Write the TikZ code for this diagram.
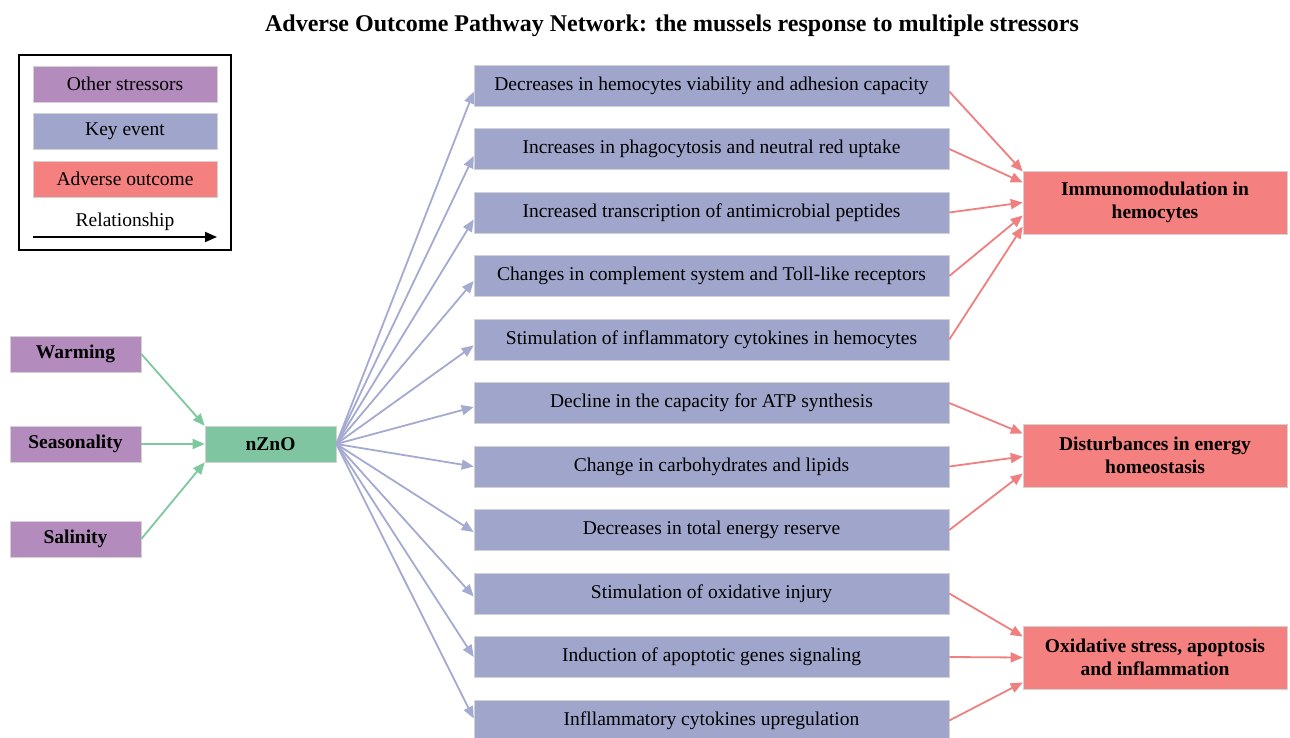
\documentclass[tikz,border=0pt]{standalone}
\usepackage{fontspec}
\setmainfont{Liberation Serif}
\usetikzlibrary{arrows.meta}
\definecolor{cpur}{RGB}{179,139,189}
\definecolor{ckey}{RGB}{160,166,203}
\definecolor{cred}{RGB}{245,128,128}
\definecolor{cgrn}{RGB}{128,197,162}
\definecolor{akey}{RGB}{165,170,208}
\definecolor{ared}{RGB}{240,128,128}
\definecolor{agrn}{RGB}{126,200,160}
\begin{document}
\begin{tikzpicture}[x=1pt,y=-1pt,
  box/.style={draw=gray!35, line width=0.6pt, inner sep=0pt, align=center,
    font=\fontsize{19.5}{23}\selectfont},
  keybox/.style={box, fill=ckey, minimum width=475pt, minimum height=41pt},
  stressbox/.style={box, fill=cpur, minimum width=131pt, minimum height=36pt, font=\fontsize{19.5}{23}\selectfont\bfseries},
  znbox/.style={box, fill=cgrn, minimum width=131pt, minimum height=36pt, font=\fontsize{19.5}{23}\selectfont\bfseries},
  outbox/.style={box, fill=cred, minimum width=264pt, minimum height=63pt, font=\fontsize{19.5}{23}\selectfont\bfseries},
  legbox/.style={box, minimum width=184pt, minimum height=36pt},
  tip/.style={-{Triangle[length=12pt,width=10pt]}},
  blarr/.style={tip, draw=akey, line width=1.8pt},
  rdarr/.style={tip, draw=ared, line width=1.8pt},
  grarr/.style={tip, draw=agrn, line width=1.8pt},
  bkarr/.style={tip, draw=black, line width=1.8pt}
]
\useasboundingbox[fill=white] (0,0) rectangle (1290,738);

\node[font=\fontsize{24}{27}\selectfont\bfseries] (title) at (672,26)
  {Adverse Outcome Pathway Network: the mussels response to multiple stressors};

% legend
\node[draw=black, line width=1.5pt, minimum width=212pt, minimum height=195pt, inner sep=0pt] (legend) at (125,152.5) {};
\node[legbox, fill=cpur] (l1) at (125,84) {Other stressors};
\node[legbox, fill=ckey] (l2) at (125,131) {Key event};
\node[legbox, fill=cred] (l3) at (125,179) {Adverse outcome};
\node[font=\fontsize{19.5}{23}\selectfont] (lrel) at (125,222) {Relationship};
\coordinate (la) at (33,237);
\coordinate (lb) at (217,237);
\draw[bkarr] (la) -- (lb);

% stressors
\node[stressbox] (warm) at (75.5,354) {Warming};
\node[stressbox] (seas) at (75.5,444) {Seasonality};
\node[stressbox] (sal) at (75.5,539) {Salinity};
\node[znbox] (zn) at (270.5,444) {nZnO};

% key events
\node[keybox] (k1) at (711.5,85.5) {Decreases in hemocytes viability and adhesion capacity};
\node[keybox] (k2) at (711.5,149) {Increases in phagocytosis and neutral red uptake};
\node[keybox] (k3) at (711.5,212.5) {Increased transcription of antimicrobial peptides};
\node[keybox] (k4) at (711.5,276) {Changes in complement system and Toll-like receptors};
\node[keybox] (k5) at (711.5,339.5) {Stimulation of inflammatory cytokines in hemocytes};
\node[keybox] (k6) at (711.5,403) {Decline in the capacity for ATP synthesis};
\node[keybox] (k7) at (711.5,466.5) {Change in carbohydrates and lipids};
\node[keybox] (k8) at (711.5,530) {Decreases in total energy reserve};
\node[keybox] (k9) at (711.5,593.5) {Stimulation of oxidative injury};
\node[keybox] (k10) at (711.5,657) {Induction of apoptotic genes signaling};
\node[keybox] (k11) at (711.5,720.5) {Infllammatory cytokines upregulation};

% outcomes
\node[outbox] (o1) at (1155,202.5) {Immunomodulation in\\hemocytes};
\node[outbox] (o2) at (1155,455.5) {Disturbances in energy\\homeostasis};
\node[outbox] (o3) at (1155,657.5) {Oxidative stress, apoptosis\\and inflammation};

% green arrows
\draw[grarr] (warm.east) -- (zn.north west);
\draw[grarr] (seas.east) -- (zn.west);
\draw[grarr] (sal.east) -- (zn.south west);

% blue arrows
\draw[blarr] (zn.east) -- ([yshift=-6pt]k1.west);
\draw[blarr] (zn.east) -- ([yshift=-7pt]k2.west);
\draw[blarr] (zn.east) -- ([yshift=-7pt]k3.west);
\draw[blarr] (zn.east) -- ([yshift=-5pt]k4.west);
\draw[blarr] (zn.east) -- ([yshift=-6pt]k5.west);
\draw[blarr] (zn.east) -- ([yshift=-4pt]k6.west);
\draw[blarr] (zn.east) -- (k7.west);
\draw[blarr] (zn.east) -- ([yshift=-2pt]k8.west);
\draw[blarr] (zn.east) -- ([yshift=-3pt]k9.west);
\draw[blarr] (zn.east) -- (k10.west);
\draw[blarr] (zn.east) -- ([yshift=2pt]k11.west);

% red arrows
\draw[rdarr] ([yshift=-6pt]k1.east) -- ([yshift=31pt]o1.west);
\draw[rdarr] (k2.east) -- ([yshift=20pt]o1.west);
\draw[rdarr] (k3.east) -- ([yshift=0pt]o1.west);
\draw[rdarr] (k4.east) -- ([yshift=-13pt]o1.west);
\draw[rdarr] (k5.east) -- ([yshift=-24pt]o1.west);
\draw[rdarr] (k6.east) -- ([yshift=22pt]o2.west);
\draw[rdarr] (k7.east) -- ([yshift=-1pt]o2.west);
\draw[rdarr] (k8.east) -- ([yshift=-18pt]o2.west);
\draw[rdarr] (k9.east) -- ([yshift=21pt]o3.west);
\draw[rdarr] (k10.east) -- (o3.west);
\draw[rdarr] (k11.east) -- ([yshift=-25pt]o3.west);
\end{tikzpicture}
\end{document}
